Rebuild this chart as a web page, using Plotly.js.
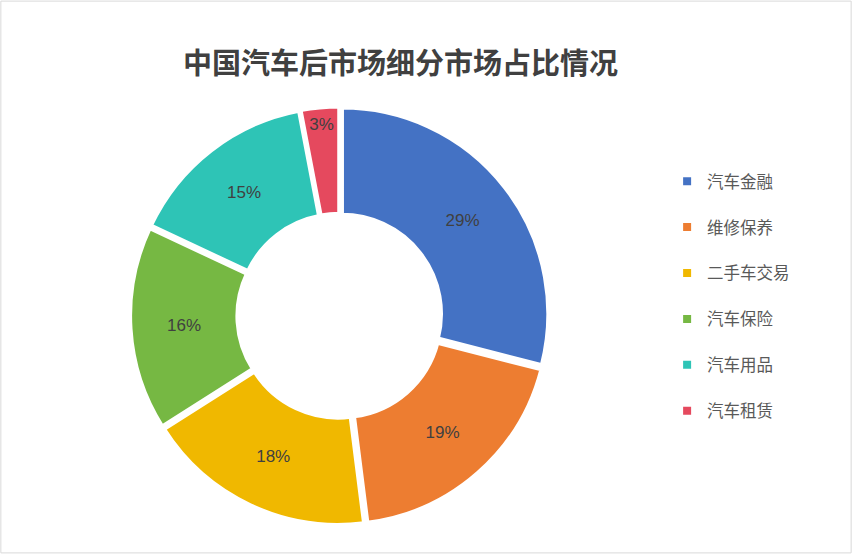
<!DOCTYPE html>
<html>
<head>
<meta charset="utf-8">
<script src="https://cdn.plot.ly/plotly-3.0.1.min.js"></script>
<style>html,body{margin:0;padding:0;background:#fff;}#chart{width:852px;height:554px;}</style>
</head>
<body>
<div id="chart"></div>
<script>
const categories = ["汽车金融", "维修保养", "二手车交易", "汽车保险", "汽车用品", "汽车租赁"];
const shares = [29, 19, 18, 16, 15, 3];
const colors = ["#4472C4", "#ED7D31", "#F0B800", "#76B843", "#2EC4B6", "#E5495E"];
const chartTitle = "中国汽车后市场细分市场占比情况";

const legendLabels = categories.map(c => c + "<br>&nbsp;");

const trace = {
  type: "pie",
  labels: legendLabels,
  values: shares,
  hole: 0.48,
  sort: false,
  direction: "clockwise",
  rotation: 0,
  pull: 0.015,
  marker: {colors: colors, line: {color: "#ffffff", width: 4}},
  textinfo: "percent",
  texttemplate: "%{percent:.0%}",
  textposition: "inside",
  insidetextorientation: "horizontal",
  textfont: {family: "Liberation Sans, Noto Sans CJK SC", size: 17, color: "#404040"},
  domain: {x: [0.152, 0.645], y: [0.052, 0.808]},
  hoverinfo: "label+percent"
};

const layout = {
  width: 852, height: 554,
  margin: {l: 0, r: 0, t: 0, b: 0},
  paper_bgcolor: "#ffffff",
  title: {
    text: chartTitle,
    x: 0.47, xanchor: "center", y: 0.885, yanchor: "middle",
    font: {family: "Noto Sans CJK SC", size: 29, color: "#404040", weight: "bold"}
  },
  showlegend: true,
  legend: {
    x: 0.783, xanchor: "left", y: 0.704, yanchor: "top",
    valign: "top",
    font: {family: "Noto Sans CJK SC", size: 16.5, color: "#595959"},
    itemwidth: 30
  },
  shapes: [{type: "rect", xref: "paper", yref: "paper", x0: 0.001, x1: 0.999, y0: 0.002, y1: 0.998,
    line: {color: "#D9D9D9", width: 1}}]
};

Plotly.newPlot("chart", [trace], layout, {displayModeBar: false, staticPlot: true});
</script>
</body>
</html>
